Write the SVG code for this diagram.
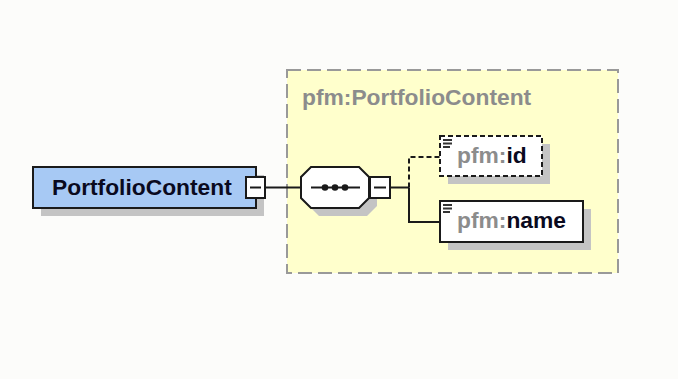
<svg xmlns="http://www.w3.org/2000/svg" width="678" height="379" viewBox="0 0 678 379">
<defs>
<style>
.t{font-family:"Liberation Sans",Arial,sans-serif;font-weight:bold;font-size:22.8px}
.gray{fill:#8c8c8c}
.dark{fill:#0a0a1e}
.shadow{fill:#c4c4c4}
.ln{stroke:#1a1a1a;stroke-width:2;fill:none}
.dash{stroke-dasharray:5,3}
</style>
</defs>
<rect x="0" y="0" width="678" height="379" fill="#fcfcfa"/>
<g id="group-portfoliocontent">
<rect x="287" y="70" width="331" height="203" fill="#ffffcc" stroke="#999" stroke-width="2" stroke-dasharray="14,6"/>
<text x="302" y="105" class="t gray">pfm:PortfolioContent</text>
</g>
<g id="connectors">
<line x1="266" y1="187.5" x2="301" y2="187.5" class="ln"/>
<line x1="390" y1="187.5" x2="409" y2="187.5" class="ln"/>
<polyline points="409,187.5 409,157 440,157" class="ln dash"/>
<polyline points="409,187.5 409,222 440,222" class="ln"/>
</g>
<g id="node-portfoliocontent">
<rect x="41" y="175" width="223" height="41" class="shadow"/>
<rect x="33" y="167" width="223" height="41" fill="#a7c9f4" stroke="#1a1a1a" stroke-width="2"/>
<text x="52" y="195" class="t dark">PortfolioContent</text>
<rect x="246" y="177" width="19" height="21" fill="#fff" stroke="#1a1a1a" stroke-width="2"/>
<line x1="250" y1="187.5" x2="261" y2="187.5" stroke="#1a1a1a" stroke-width="2"/>
</g>
<g id="node-sequence">
<polygon points="319,175 367,175 377,185 377,206 367,216 319,216 309,206 309,185" class="shadow"/>
<polygon points="311,167 359,167 369,177 369,198 359,208 311,208 301,198 301,177" fill="#fff" stroke="#1a1a1a" stroke-width="2"/>
<line x1="311" y1="187.5" x2="360" y2="187.5" stroke="#1a1a1a" stroke-width="2"/>
<circle cx="325" cy="187.5" r="3.3" fill="#1a1a1a"/>
<circle cx="335" cy="187.5" r="3.3" fill="#1a1a1a"/>
<circle cx="345" cy="187.5" r="3.3" fill="#1a1a1a"/>
<rect x="370" y="177" width="20" height="21" fill="#fff" stroke="#1a1a1a" stroke-width="2"/>
<line x1="374" y1="187.5" x2="386" y2="187.5" stroke="#1a1a1a" stroke-width="2"/>
</g>
<g id="node-id">
<rect x="448" y="144" width="102" height="40" class="shadow"/>
<rect x="440" y="136" width="102" height="40" fill="#fff" stroke="#1a1a1a" stroke-width="2" stroke-dasharray="5,3"/>
<path d="M443 140h9M443 143.5h9M443 147h7" stroke="#333" stroke-width="1.8"/>
<text x="457" y="163" class="t"><tspan class="gray">pfm:</tspan><tspan class="dark">id</tspan></text>
</g>
<g id="node-name">
<rect x="448" y="209" width="143" height="41" class="shadow"/>
<rect x="440" y="201" width="143" height="41" fill="#fff" stroke="#1a1a1a" stroke-width="2"/>
<path d="M443 205h9M443 208.5h9M443 212h7" stroke="#333" stroke-width="1.8"/>
<text x="457" y="228" class="t"><tspan class="gray">pfm:</tspan><tspan class="dark">name</tspan></text>
</g>
</svg>
